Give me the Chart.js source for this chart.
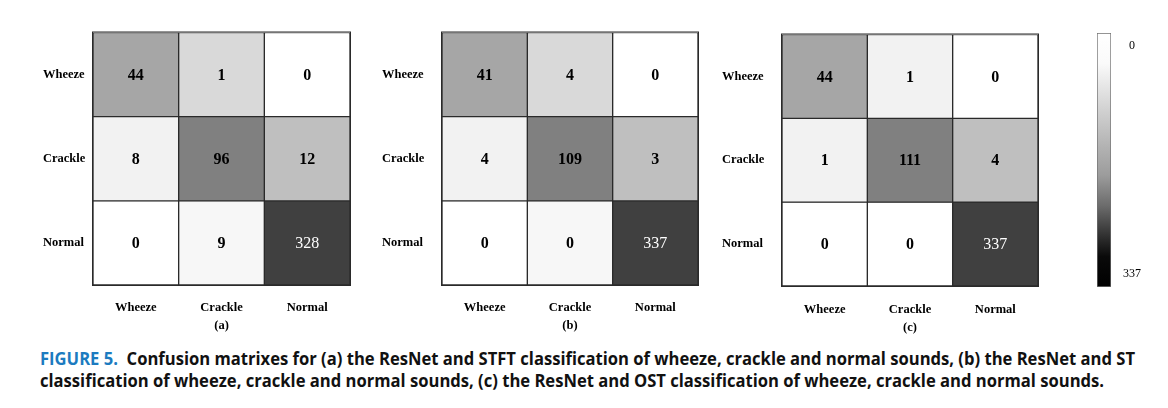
<!DOCTYPE html>
<html><head><meta charset="utf-8">
<script src="https://cdn.jsdelivr.net/npm/chart.js@4.4.1/dist/chart.umd.min.js"></script>
<style>
html,body{margin:0;padding:0;background:#fff}
body{width:1168px;height:408px;overflow:hidden;position:relative}
.w{position:absolute}
.cap{position:absolute;left:40px;font-family:"Open Sans","Noto Sans",sans-serif;font-weight:700;font-size:18px;line-height:22px;color:#111;white-space:nowrap;transform-origin:0 50%}
.fig{color:#1c7bc0}
</style></head><body>
<div class="w" id="wa"><canvas id="ca"></canvas></div>
<div class="w" id="wb"><canvas id="cb"></canvas></div>
<div class="w" id="wc"><canvas id="cc"></canvas></div>
<div class="w" id="wbar"><canvas id="cbar"></canvas></div>
<div class="cap" id="cap1" style="top:347px"><span class="fig">FIGURE 5.</span>&nbsp; Confusion matrixes for (a) the ResNet and STFT classification of wheeze, crackle and normal sounds, (b) the ResNet and ST</div>
<div class="cap" id="cap2" style="top:369px">classification of wheeze, crackle and normal sounds, (c) the ResNet and OST classification of wheeze, crackle and normal sounds.</div>
<script>
// ---- data ----
const classLabels = ['Wheeze', 'Crackle', 'Normal'];
const panelTitles = ['(a)', '(b)', '(c)'];
const matrixA = [[44, 1, 0], [8, 96, 12], [0, 9, 328]];
const matrixB = [[41, 4, 0], [4, 109, 3], [0, 0, 337]];
const matrixC = [[44, 1, 0], [1, 111, 4], [0, 0, 337]];
const colorbarRange = [0, 337];
const colorbarTicks = [0, 337];

// ---- styles ----
const shadesA = [['#a6a6a6', '#d9d9d9', '#ffffff'], ['#f2f2f2', '#808080', '#bfbfbf'], ['#ffffff', '#f7f7f7', '#404040']];
const shadesB = [['#a6a6a6', '#d9d9d9', '#ffffff'], ['#f2f2f2', '#808080', '#bfbfbf'], ['#ffffff', '#f7f7f7', '#404040']];
const shadesC = [['#a6a6a6', '#f2f2f2', '#ffffff'], ['#f2f2f2', '#808080', '#bfbfbf'], ['#ffffff', '#ffffff', '#404040']];
const SERIF = '"Liberation Serif","Times New Roman",serif';
const labelFont = {family: SERIF, size: 12.5, weight: 'bold'};
const lineColor = '#2a2a2a';

function isDark(hex) {
  const n = parseInt(hex.slice(1), 16);
  const l = 0.299 * (n >> 16) + 0.587 * ((n >> 8) & 255) + 0.114 * (n & 255);
  return l < 100;
}

function place(wrapId, canvasId, left, top, width, height) {
  const w = document.getElementById(wrapId);
  Object.assign(w.style, {left: left + 'px', top: top + 'px', width: width + 'px', height: height + 'px'});
  const c = document.getElementById(canvasId);
  c.width = width; c.height = height;
  c.style.width = width + 'px'; c.style.height = height + 'px';
  return c;
}

function makePanel(wrapId, canvasId, geo, matrix, shades, title) {
  const left = geo.labelLeft - 2, top = geo.areaTop - 6;
  const width = geo.areaRight + 6 - left, height = geo.areaBottom + geo.xH - top;
  const canvas = place(wrapId, canvasId, left, top, width, height);
  const datasets = matrix.map((row, r) => ({
    data: row.map(() => [r, r + 1]),
    backgroundColor: shades[r],
    borderColor: lineColor,
    borderWidth: 1,
    borderSkipped: false,
    categoryPercentage: 1,
    barPercentage: 1,
    grouped: false
  }));
  const cellText = {
    id: 'cellText',
    afterDatasetsDraw(chart) {
      const ctx = chart.ctx;
      ctx.save();
      const a = chart.chartArea;
      ctx.strokeStyle = lineColor; ctx.lineWidth = 1;
      ctx.strokeRect(a.left - 0.5, a.top - 0.5, a.width + 1, a.height + 1);
      chart.data.datasets.forEach((ds, r) => {
        chart.getDatasetMeta(r).data.forEach((bar, c) => {
          const p = bar.getProps(['x', 'y', 'base'], true);
          const dark = isDark(shades[r][c]);
          ctx.font = (dark ? '' : 'bold ') + '16px ' + SERIF;
          ctx.fillStyle = dark ? '#ffffff' : '#000000';
          ctx.textAlign = 'center'; ctx.textBaseline = 'middle';
          ctx.fillText(String(matrix[r][c]), p.x, (p.y + p.base) / 2 + 1);
        });
      });
      ctx.restore();
    }
  };
  return new Chart(canvas, {
    type: 'bar',
    data: {labels: classLabels, datasets},
    options: {
      responsive: false, animation: false, devicePixelRatio: 1,
      layout: {padding: {top: 6, right: 6, left: 2, bottom: 0}},
      plugins: {legend: {display: false}, tooltip: {enabled: false}, title: {display: false}},
      scales: {
        x: {
          grid: {display: false, drawTicks: false}, border: {display: false},
          ticks: {font: labelFont, color: '#000', padding: geo.xPad, maxRotation: 0},
          title: {display: true, text: title, font: labelFont, color: '#000', padding: {top: 0, bottom: geo.tPad}},
          afterFit: s => { s.height = geo.xH; }
        },
        y: {
          type: 'linear', min: 0, max: 3, reverse: true,
          grid: {display: false, drawTicks: false}, border: {display: false},
          afterBuildTicks: s => { s.ticks = classLabels.map((_, i) => ({value: i + 0.5})); },
          ticks: {font: labelFont, color: '#000', crossAlign: 'far', padding: 0,
                  callback: v => classLabels[Math.floor(v)]},
          afterFit: s => { s.width = geo.areaLeft - geo.labelLeft; }
        }
      }
    },
    plugins: [cellText]
  });
}

makePanel('wa', 'ca', {labelLeft: 43, areaLeft: 93, areaRight: 350, areaTop: 31, areaBottom: 285, xH: 55, xPad: 15, tPad: 7}, matrixA, shadesA, panelTitles[0]);
makePanel('wb', 'cb', {labelLeft: 382, areaLeft: 442, areaRight: 698, areaTop: 31, areaBottom: 285, xH: 55, xPad: 15, tPad: 7}, matrixB, shadesB, panelTitles[1]);
makePanel('wc', 'cc', {labelLeft: 722, areaLeft: 782, areaRight: 1038, areaTop: 33, areaBottom: 286, xH: 56, xPad: 16, tPad: 7}, matrixC, shadesC, panelTitles[2]);

// ---- colorbar ----
(function () {
  const left = 1090, top = 25, width = 70, height = 270;
  const canvas = place('wbar', 'cbar', left, top, width, height);
  const barLabels = {
    id: 'barLabels',
    afterDatasetsDraw(chart) {
      const ctx = chart.ctx, s = chart.scales.y, a = chart.chartArea;
      ctx.save();
      ctx.font = '12px ' + SERIF; ctx.fillStyle = '#000';
      ctx.textAlign = 'center'; ctx.textBaseline = 'middle';
      colorbarTicks.forEach((t, i) => {
        const py = s.getPixelForValue(t) + (i === 0 ? 13 : -13);
        ctx.fillText(String(t), a.right + 21, py);
      });
      ctx.restore();
    }
  };
  new Chart(canvas, {
    type: 'bar',
    data: {labels: [''], datasets: [{
      data: [colorbarRange],
      backgroundColor: (c) => {
        const a = c.chart.chartArea;
        if (!a) return '#888';
        const g = c.chart.ctx.createLinearGradient(0, a.top, 0, a.bottom);
        [[0, '#ffffff'], [0.12, '#fafafa'], [0.3, '#d2d2d2'], [0.45, '#b2b2b2'], [0.56, '#9c9c9c'],
         [0.68, '#6c6c6c'], [0.8, '#303030'], [0.88, '#0a0a0a'], [1, '#000000']].forEach(s => g.addColorStop(s[0], s[1]));
        return g;
      },
      borderColor: '#707070', borderWidth: 1, borderSkipped: false,
      categoryPercentage: 1, barPercentage: 1
    }]},
    options: {
      responsive: false, animation: false, devicePixelRatio: 1,
      layout: {padding: {left: 7, top: 8, right: width - 21, bottom: top + height - 287}},
      plugins: {legend: {display: false}, tooltip: {enabled: false}},
      scales: {
        x: {display: false},
        y: {display: false, min: colorbarRange[0], max: colorbarRange[1], reverse: true}
      }
    },
    plugins: [barLabels]
  });
})();

// fit caption width to the figure
(function () {
  const c1 = document.getElementById('cap1'), c2 = document.getElementById('cap2');
  const k = 1095 / c1.getBoundingClientRect().width;
  c1.style.transform = 'scaleX(' + k + ')';
  c2.style.transform = 'scaleX(' + k + ')';
})();
</script>
</body></html>
